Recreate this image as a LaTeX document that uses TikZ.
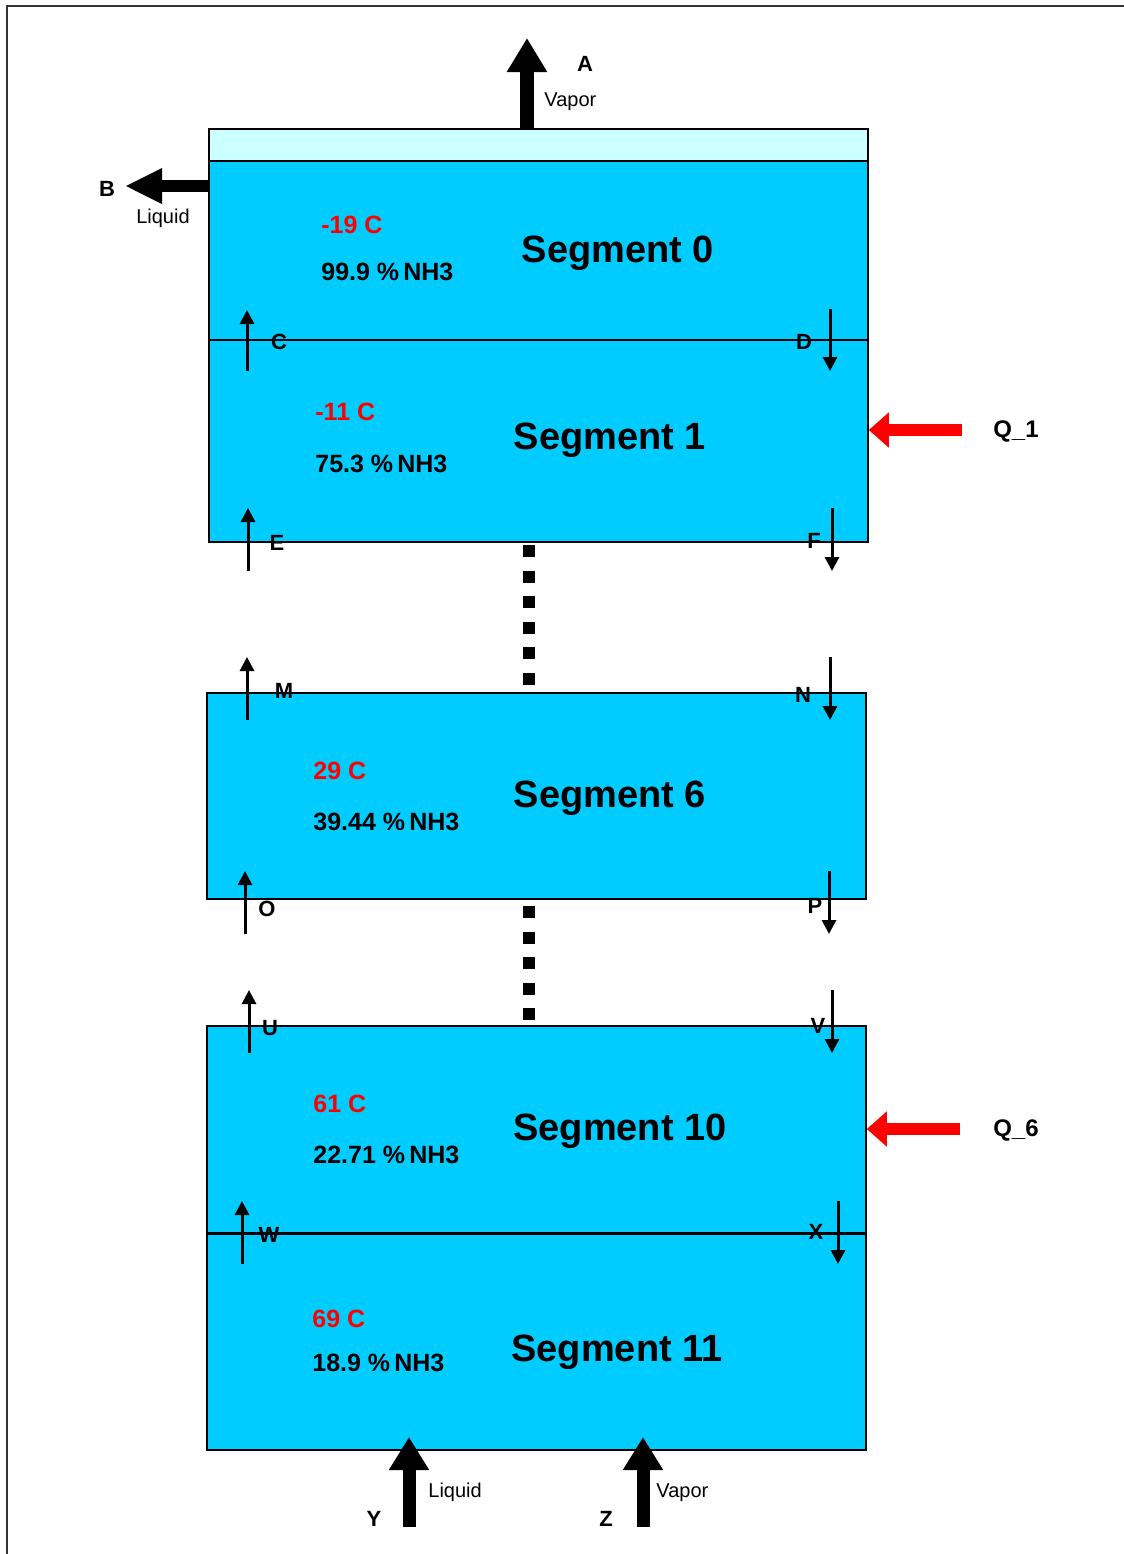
\documentclass[tikz,border=0pt]{standalone}
\usepackage{fontspec}
\setmainfont{Liberation Sans}
\usetikzlibrary{arrows.meta}
\definecolor{segblue}{HTML}{00CCFF}
\definecolor{topcyan}{HTML}{CCFFFF}
\definecolor{framegray}{HTML}{333333}
\definecolor{heatred}{HTML}{FF0000}
\begin{document}
\begin{tikzpicture}[x=0.5pt,y=-0.5pt,
  segbox/.style={draw=black, line width=0.8pt, fill=segblue, inner sep=0pt, minimum width=329.5pt},
  bandbox/.style={draw=black, line width=0.8pt, fill=topcyan, inner sep=0pt, minimum width=329.5pt, minimum height=16pt},
  seglabel/.style={font=\fontsize{19}{22}\selectfont\bfseries, inner sep=0pt},
  templabel/.style={font=\fontsize{12.5}{14}\selectfont\bfseries, text=heatred, anchor=west, inner sep=0pt},
  conclabel/.style={font=\fontsize{12.5}{14}\selectfont\bfseries, anchor=west, inner sep=0pt},
  letter/.style={font=\fontsize{11}{13}\selectfont\bfseries, inner sep=0pt},
  phase/.style={font=\fontsize{10}{12}\selectfont, inner sep=0pt},
  flowarrow/.style={line width=1.5pt, -{Triangle[width=7pt,length=7pt]}},
  heatarrow/.style={draw=heatred, line width=6pt, -{Triangle[width=17pt,length=10pt]}},
  vaporout/.style={line width=7pt, -{Triangle[width=19pt,length=17pt]}},
  liquidout/.style={line width=6pt, -{Triangle[width=16.5pt,length=18.5pt]}},
  feedarrow/.style={line width=6.5pt, -{Triangle[width=19pt,length=16.5pt]}},
  dotsq/.style={fill=black}
]
\useasboundingbox (0,0) rectangle (1124,1554);
% frame
\draw[framegray, line width=1pt] (7,1554) -- (7,6) -- (1124,6);

% boxes
\node[bandbox] (band) at (538.5,145) {};
\node[segbox, minimum height=89.5pt] (seg0) at (538.5,250.5) {};
\node[segbox, minimum height=101pt] (seg1) at (538.5,441) {};
\node[segbox, minimum height=103pt] (seg6) at (536.5,796) {};
\node[segbox, minimum height=108.5pt] (seg11) at (536.5,1341.5) {};
\node[segbox, minimum height=103.5pt] (seg10) at (536.5,1129.5) {};
\draw[line width=1.4pt] (seg10.south west) -- (seg10.south east);

% segment texts
\node[seglabel] (s0) at (618,253) {Segment 0};
\node[templabel] (t0) at (321,225) {-19 C};
\node[conclabel] (c0) at (321,272) {99.9 \%\,NH3};
\node[seglabel] (s1) at (610,440) {Segment 1};
\node[templabel] (t1) at (315,412) {-11 C};
\node[conclabel] (c1) at (315,464) {75.3 \%\,NH3};
\node[seglabel] (s6) at (610,798) {Segment 6};
\node[templabel] (t6) at (313,771) {29 C};
\node[conclabel] (c6) at (313,822) {39.44 \%\,NH3};
\node[seglabel] (s10) at (620,1131) {Segment 10};
\node[templabel] (t10) at (313,1104) {61 C};
\node[conclabel] (c10) at (313,1155) {22.71 \%\,NH3};
\node[seglabel] (s11) at (617,1352) {Segment 11};
\node[templabel] (t11) at (312,1319) {69 C};
\node[conclabel] (c11) at (312,1363) {18.9 \%\,NH3};

% dotted connections
\foreach \yy in {551,577,602,628,653,679} {\fill[dotsq] (522.5,\yy-6) rectangle +(12,12);}
\foreach \yy in {912,938,963,989,1014} {\fill[dotsq] (522.5,\yy-6) rectangle +(12,12);}

% A vapor out
\coordinate (Abase) at (527,129);
\coordinate (Atip) at (527,38);
\draw[vaporout] (Abase) -- (Atip);
\node[letter] (A) at (585,64) {A};
\node[phase, anchor=west] (Av) at (544,102) {Vapor};

% B liquid out
\coordinate (Bbase) at (209,186);
\coordinate (Btip) at (125,186);
\draw[liquidout] (Bbase) -- (Btip);
\node[letter] (B) at (107,189) {B};
\node[phase] (Bl) at (163,218) {Liquid};

% internal flows
\coordinate (Cs) at (247,371); \coordinate (Ce) at (247,310);
\draw[flowarrow] (Cs) -- (Ce); \node[letter] (C) at (279,342) {C};
\coordinate (Ds) at (830,309); \coordinate (De) at (830,371);
\draw[flowarrow] (Ds) -- (De); \node[letter] (D) at (804,342) {D};
\coordinate (Es) at (248,571); \coordinate (Ee) at (248,508);
\draw[flowarrow] (Es) -- (Ee); \node[letter] (E) at (277,543) {E};
\coordinate (Fs) at (832,508); \coordinate (Fe) at (832,571);
\draw[flowarrow] (Fs) -- (Fe); \node[letter] (F) at (814,541) {F};
\coordinate (Ms) at (247,720); \coordinate (Me) at (247,657);
\draw[flowarrow] (Ms) -- (Me); \node[letter] (M) at (284,691) {M};
\coordinate (Ns) at (830,657); \coordinate (Ne) at (830,720);
\draw[flowarrow] (Ns) -- (Ne); \node[letter] (N) at (803,695) {N};
\coordinate (Os) at (245,934); \coordinate (Oe) at (245,871);
\draw[flowarrow] (Os) -- (Oe); \node[letter] (O) at (267,909) {O};
\coordinate (Ps) at (829,871); \coordinate (Pe) at (829,934);
\draw[flowarrow] (Ps) -- (Pe); \node[letter] (P) at (815,906) {P};
\coordinate (Us) at (249,1053); \coordinate (Ue) at (249,990);
\draw[flowarrow] (Us) -- (Ue); \node[letter] (U) at (270,1028) {U};
\coordinate (Vs) at (832,990); \coordinate (Ve) at (832,1053);
\draw[flowarrow] (Vs) -- (Ve); \node[letter] (V) at (818,1026) {V};
\coordinate (Ws) at (242,1264); \coordinate (We) at (242,1201);
\draw[flowarrow] (Ws) -- (We); \node[letter] (W) at (269,1235) {W};
\coordinate (Xs) at (838,1201); \coordinate (Xe) at (838,1264);
\draw[flowarrow] (Xs) -- (Xe); \node[letter] (X) at (816,1232) {X};

% heat inputs
\coordinate (Q1s) at (962,430);
\draw[heatarrow] (Q1s) -- (seg1.east |- Q1s);
\node[letter, font=\fontsize{12}{14}\selectfont\bfseries] (Q1) at (1016,431) {Q\_1};
\coordinate (Q6s) at (960,1129);
\draw[heatarrow] (Q6s) -- (seg10.east |- Q6s);
\node[letter, font=\fontsize{12}{14}\selectfont\bfseries] (Q6) at (1016,1130) {Q\_6};

% feeds
\coordinate (Ys) at (409,1527); \coordinate (Yt) at (409,1437);
\draw[feedarrow] (Ys) -- (Yt);
\node[letter] (Y) at (374,1519) {Y};
\node[phase, anchor=west] (Yl) at (428,1492) {Liquid};
\coordinate (Zs) at (643,1527); \coordinate (Zt) at (643,1437);
\draw[feedarrow] (Zs) -- (Zt);
\node[letter] (Z) at (606,1519) {Z};
\node[phase, anchor=west] (Zv) at (656,1493) {Vapor};
\end{tikzpicture}
\end{document}
